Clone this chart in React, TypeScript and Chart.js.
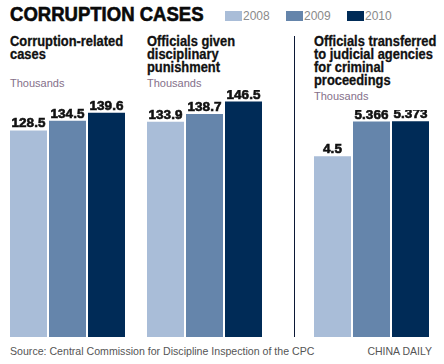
import React, { useEffect, useRef } from "react";
import { Chart, registerables } from "chart.js";

Chart.register(...registerables);

const years = ["2008", "2009", "2010"];
const yearColors = ["#a9bdd8", "#6585ab", "#002b57"];
const corruptionCases = [128.5, 134.5, 139.6];
const corruptionLabels = ["128.5", "134.5", "139.6"];
const disciplinary = [133.9, 138.7, 146.5];
const disciplinaryLabels = ["133.9", "138.7", "146.5"];
const transferred = [4.5, 5.366, 5.373];
const transferredLabels = ["4.5", "5.366", "5.373"];

const PAD = 6;

const valueLabelPlugin = {
  id: "valueLabels",
  afterDatasetsDraw(chart: any) {
    const ctx = chart.ctx;
    const labels: string[] = chart.options.plugins.valueLabels.labels;
    const meta = chart.getDatasetMeta(0);
    ctx.save();
    ctx.font = "bold 13.5px 'Liberation Sans', Arial, sans-serif";
    ctx.fillStyle = "#111111";
    ctx.strokeStyle = "#111111";
    ctx.lineWidth = 0.6;
    ctx.textAlign = "center";
    ctx.textBaseline = "alphabetic";
    meta.data.forEach((el: any, i: number) => {
      ctx.fillText(labels[i], el.x, el.y - 3);
      ctx.strokeText(labels[i], el.x, el.y - 3);
    });
    ctx.restore();
  },
};

function BarPanel(props: {
  values: number[];
  labels: string[];
  max: number;
  left: number;
  top: number;
  height: number;
}) {
  const ref = useRef<HTMLCanvasElement>(null);
  useEffect(() => {
    if (!ref.current) return;
    const chart = new Chart(ref.current, {
      type: "bar",
      data: {
        labels: years,
        datasets: [
          {
            data: props.values,
            backgroundColor: yearColors,
            borderWidth: 0,
            barPercentage: 37 / 39,
            categoryPercentage: 1,
          },
        ],
      },
      options: {
        animation: false,
        responsive: false,
        maintainAspectRatio: false,
        layout: { padding: { left: PAD, right: PAD, top: 0, bottom: 0 } },
        scales: {
          x: { display: false },
          y: { display: false, min: 0, max: props.max },
        },
        plugins: {
          legend: { display: false },
          tooltip: { enabled: false },
          valueLabels: { labels: props.labels },
        } as any,
      },
      plugins: [valueLabelPlugin],
    });
    return () => chart.destroy();
  }, []);
  const w = 117 + PAD * 2;
  return (
    <canvas
      ref={ref}
      width={w}
      height={props.height}
      style={{
        position: "absolute",
        left: props.left - PAD,
        top: props.top,
        width: w,
        height: props.height,
      }}
    />
  );
}

const headStyle: React.CSSProperties = {
  position: "absolute",
  fontFamily: "'Liberation Sans', Arial, sans-serif",
  fontWeight: 700,
  fontSize: 14,
  lineHeight: "13px",
  color: "#111111",
  whiteSpace: "pre",
  WebkitTextStroke: "0.3px #111111",
  transform: "scaleX(0.92)",
  transformOrigin: "left top",
};

const unitStyle: React.CSSProperties = {
  position: "absolute",
  fontFamily: "'Liberation Sans Narrow', 'Liberation Sans', sans-serif",
  fontSize: 11,
  lineHeight: "11px",
  color: "#85708a",
};

export default function App() {
  return (
    <div
      style={{
        position: "fixed",
        left: 0,
        top: 0,
        width: 444,
        height: 364,
        background: "#ffffff",
        overflow: "hidden",
      }}
    >
      <div
        style={{
          position: "absolute",
          left: 10,
          top: 3,
          fontFamily: "'Liberation Sans', Arial, sans-serif",
          fontWeight: 900,
          fontSize: 19.5,
          lineHeight: "22px",
          color: "#0a0a0a",
          transform: "scaleX(0.95)",
          transformOrigin: "left top",
          whiteSpace: "pre",
          WebkitTextStroke: "0.6px #0a0a0a",
        }}
      >
        CORRUPTION CASES
      </div>
      {years.map((y, i) => (
        <div
          key={y}
          style={{
            position: "absolute",
            left: 225 + i * 61,
            top: 11,
            height: 10,
            display: "flex",
            alignItems: "center",
          }}
        >
          <div style={{ width: 17, height: 10, background: yearColors[i] }} />
          <span
            style={{
              marginLeft: 1,
              fontFamily: "'Liberation Sans', Arial, sans-serif",
              fontSize: 12,
              color: "#8a8a8a",
            }}
          >
            {y}
          </span>
        </div>
      ))}

      <div style={{ ...headStyle, left: 10, top: 35 }}>{"Corruption-related\ncases"}</div>
      <div style={{ ...headStyle, left: 147, top: 35 }}>
        {"Officials given\ndisciplinary\npunishment"}
      </div>
      <div style={{ ...headStyle, left: 314, top: 35 }}>
        {"Officials transferred\nto judicial agencies\nfor criminal\nproceedings"}
      </div>

      <div style={{ ...unitStyle, left: 10, top: 78 }}>Thousands</div>
      <div style={{ ...unitStyle, left: 147, top: 78 }}>Thousands</div>
      <div style={{ ...unitStyle, left: 314, top: 91 }}>Thousands</div>

      <div
        style={{
          position: "absolute",
          left: 294,
          top: 36,
          width: 1,
          height: 301,
          background: "#0b1836",
        }}
      />

      <BarPanel values={corruptionCases} labels={corruptionLabels} max={153.7} left={9} top={90} height={247} />
      <BarPanel values={disciplinary} labels={disciplinaryLabels} max={153.7} left={146} top={90} height={247} />
      <BarPanel values={transferred} labels={transferredLabels} max={5.654} left={313} top={110} height={227} />

      <div
        style={{
          position: "absolute",
          left: 10,
          top: 345,
          fontFamily: "'Liberation Sans', Arial, sans-serif",
          fontSize: 10.6,
          lineHeight: "13px",
          color: "#555555",
          whiteSpace: "pre",
        }}
      >
        Source: Central Commission for Discipline Inspection of the CPC
      </div>
      <div
        style={{
          position: "absolute",
          right: 12,
          top: 345,
          fontFamily: "'Liberation Sans', Arial, sans-serif",
          fontSize: 10.5,
          lineHeight: "13px",
          color: "#555555",
          whiteSpace: "pre",
        }}
      >
        CHINA DAILY
      </div>
    </div>
  );
}
